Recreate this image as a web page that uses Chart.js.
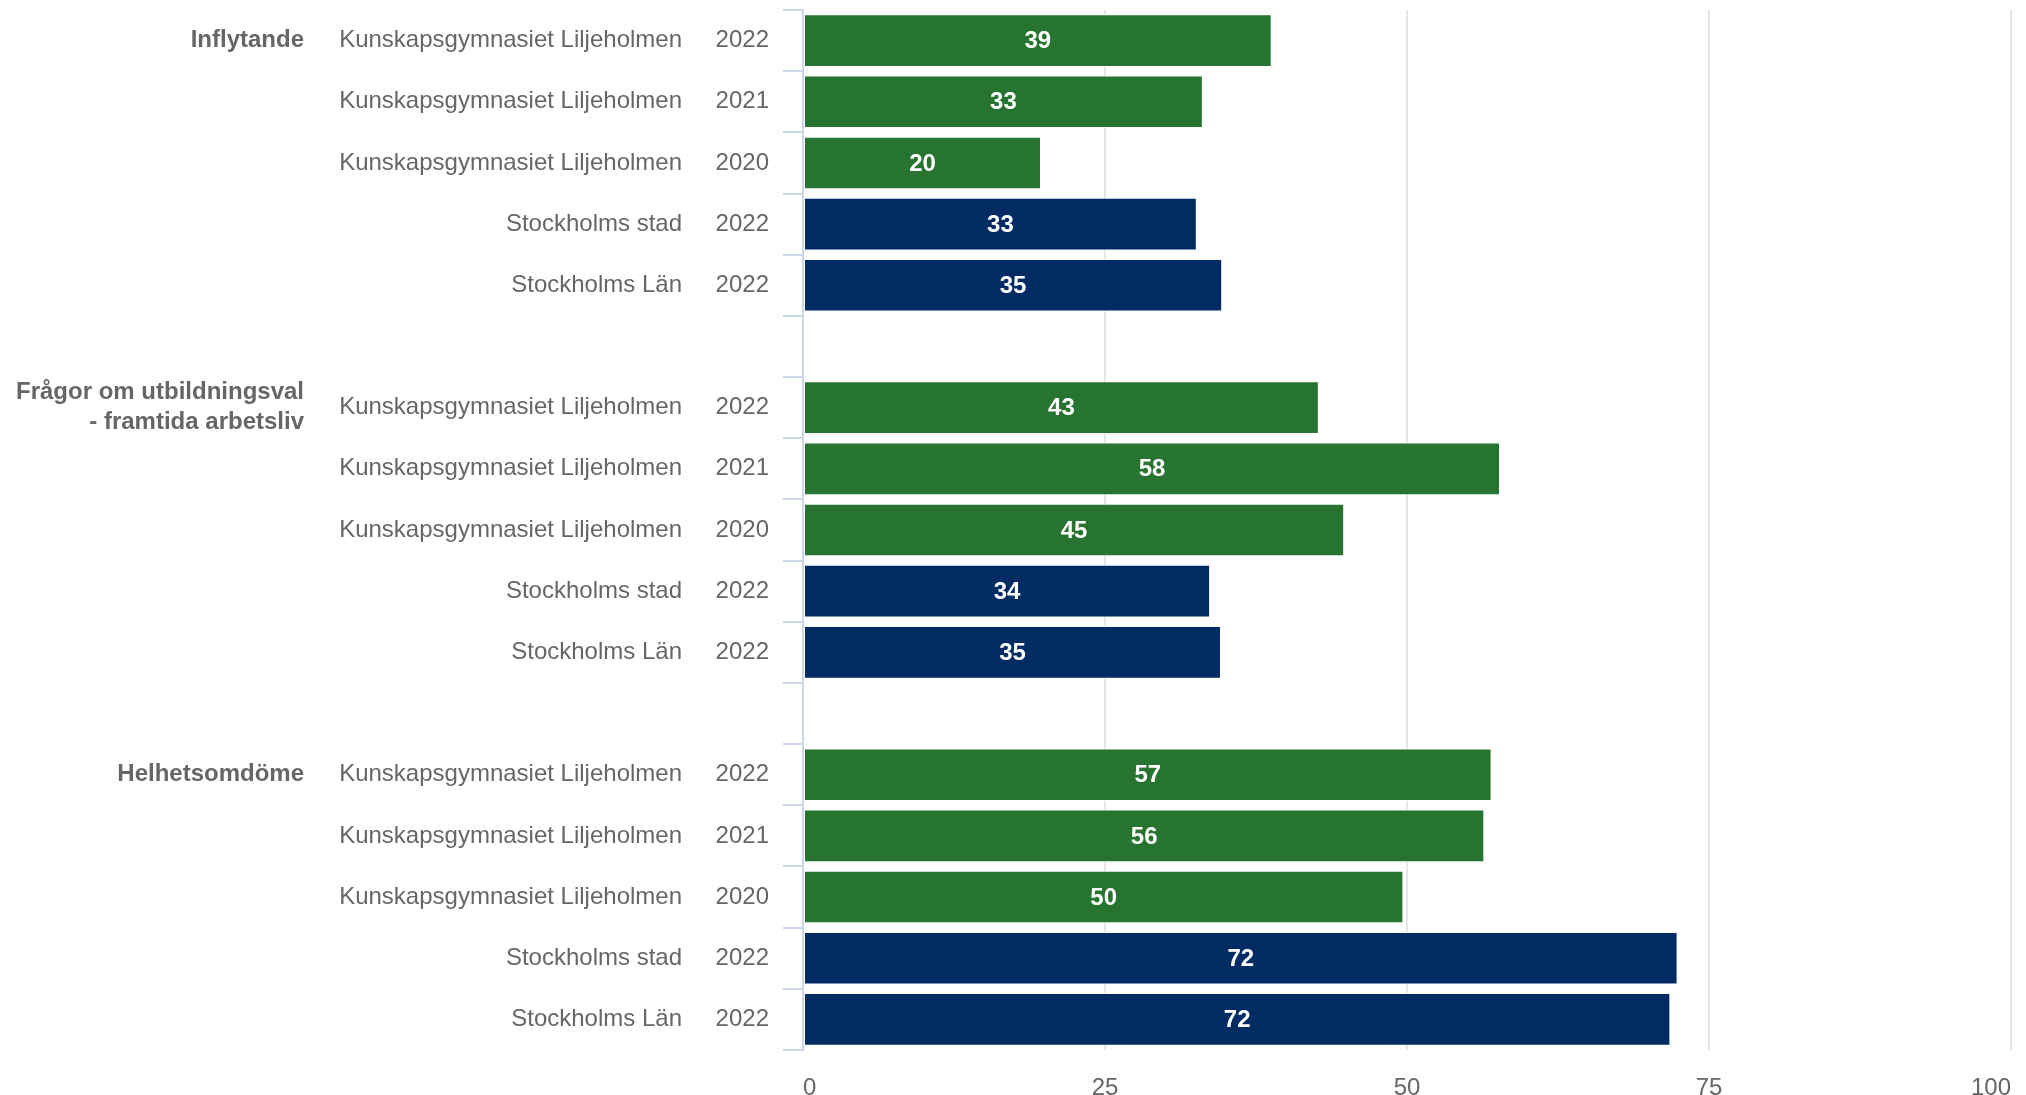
<!DOCTYPE html>
<html>
<head>
<meta charset="utf-8">
<script src="https://cdn.jsdelivr.net/npm/chart.js@4"></script>
<style>
    body { margin: 0; background: #fff; }
    canvas { display: block; }
</style>
</head>
<body>
<canvas id="chart" width="2026" height="1095"></canvas>
<script>
// One row per bar, '' / null for the empty spacer rows between the groups
const groupLabels = [
    'Inflytande', '', '', '', '', '',
    ['Frågor om utbildningsval', '- framtida arbetsliv'], '', '', '', '', '',
    'Helhetsomdöme', '', '', '', ''
];
const unitLabels = [
    'Kunskapsgymnasiet Liljeholmen', 'Kunskapsgymnasiet Liljeholmen', 'Kunskapsgymnasiet Liljeholmen', 'Stockholms stad', 'Stockholms Län', '',
    'Kunskapsgymnasiet Liljeholmen', 'Kunskapsgymnasiet Liljeholmen', 'Kunskapsgymnasiet Liljeholmen', 'Stockholms stad', 'Stockholms Län', '',
    'Kunskapsgymnasiet Liljeholmen', 'Kunskapsgymnasiet Liljeholmen', 'Kunskapsgymnasiet Liljeholmen', 'Stockholms stad', 'Stockholms Län'
];
const yearLabels = [
    '2022', '2021', '2020', '2022', '2022', '',
    '2022', '2021', '2020', '2022', '2022', '',
    '2022', '2021', '2020', '2022', '2022'
];
const values = [
    38.8, 33.1, 19.7, 32.6, 34.7, null,
    42.7, 57.7, 44.8, 33.7, 34.6, null,
    57.0, 56.4, 49.7, 72.4, 71.8
];
const xTicks = [0, 25, 50, 75, 100];

const SCHOOL_GREEN = '#26742f';
const REGION_NAVY = '#012b63';
const FONT = '"Liberation Sans", Arial, Helvetica, sans-serif';

const barColors = unitLabels.map(n => n.startsWith('Stockholms') ? REGION_NAVY : SCHOOL_GREEN);

// white value labels in the middle of each bar
const barLabels = {
    id: 'barLabels',
    afterDatasetsDraw(chart) {
        const ctx = chart.ctx;
        const meta = chart.getDatasetMeta(0);
        ctx.save();
        ctx.font = 'bold 24px ' + FONT;
        ctx.fillStyle = '#ffffff';
        ctx.textAlign = 'center';
        ctx.textBaseline = 'middle';
        meta.data.forEach((bar, i) => {
            if (values[i] == null) return;
            ctx.fillText(String(Math.round(values[i])), (bar.x + bar.base) / 2, bar.y + 1);
        });
        ctx.restore();
    }
};

// left-hand label columns: fixed width, no extra label padding above/below
function fixColumn(width) {
    return scale => {
        scale.width = width;
        scale.paddingTop = 0;
        scale.paddingBottom = 0;
    };
}

new Chart(document.getElementById('chart'), {
    type: 'bar',
    data: {
        labels: yearLabels,
        datasets: [{
            data: values,
            backgroundColor: barColors,
            borderColor: '#ffffff',
            borderWidth: 1,
            borderSkipped: false,
            barPercentage: 0.86,
            categoryPercentage: 1
        }]
    },
    options: {
        indexAxis: 'y',
        responsive: false,
        animation: false,
        devicePixelRatio: 1,
        layout: { padding: { left: 0, top: 10, right: 15, bottom: 0 } },
        plugins: {
            legend: { display: false },
            tooltip: { enabled: false }
        },
        scales: {
            x: {
                type: 'linear',
                position: 'bottom',
                min: 0,
                max: 100,
                afterBuildTicks(scale) {
                    scale.ticks = xTicks.map(v => ({ value: v }));
                },
                ticks: {
                    align: 'inner',
                    padding: 24,
                    color: '#666666',
                    font: { family: FONT, size: 24 }
                },
                grid: {
                    color: ctx => ctx.tick && ctx.tick.value === 0 ? 'rgba(0,0,0,0)' : '#e6e6e6',
                    lineWidth: 2,
                    drawTicks: false
                },
                border: { display: false },
                afterFit(scale) {
                    scale.height = 45;
                    scale.paddingLeft = 0;
                    scale.paddingRight = 0;
                }
            },
            y: {
                type: 'category',
                position: 'left',
                weight: 0,
                offset: true,
                labels: yearLabels,
                ticks: {
                    autoSkip: false,
                    padding: 14,
                    color: '#666666',
                    font: { family: FONT, size: 24 }
                },
                grid: {
                    offset: true,
                    drawOnChartArea: false,
                    drawTicks: true,
                    tickLength: 20,
                    color: '#ccd6eb',
                    lineWidth: 2
                },
                border: { color: '#ccd6eb', width: 2 },
                afterFit: fixColumn(103)
            },
            yName: {
                type: 'category',
                position: 'left',
                weight: 1,
                offset: true,
                labels: unitLabels,
                ticks: {
                    autoSkip: false,
                    padding: 18,
                    color: '#666666',
                    font: { family: FONT, size: 24 }
                },
                grid: { display: false, drawTicks: false, offset: true },
                border: { display: false },
                afterFit: fixColumn(380)
            },
            yGroup: {
                type: 'category',
                position: 'left',
                weight: 2,
                offset: true,
                labels: groupLabels,
                ticks: {
                    autoSkip: false,
                    padding: 16,
                    color: '#666666',
                    font: { family: FONT, size: 24, weight: 'bold', lineHeight: 1.25 }
                },
                grid: { display: false, drawTicks: false, offset: true },
                border: { display: false },
                afterFit: fixColumn(320)
            }
        }
    },
    plugins: [barLabels]
});
</script>
</body>
</html>
